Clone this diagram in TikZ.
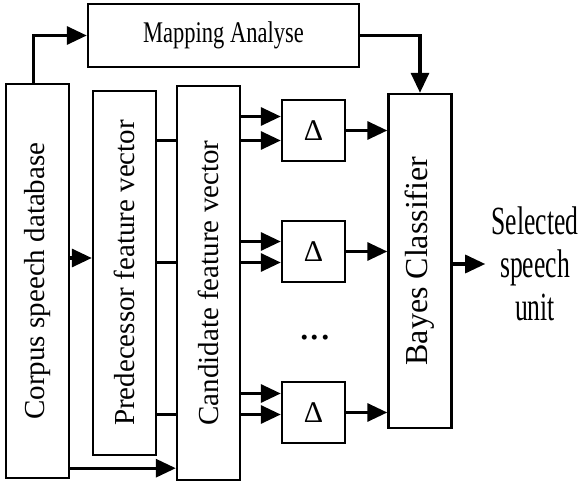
\documentclass[tikz,border=0pt]{standalone}
\usepackage{fontspec}
\setmainfont{Liberation Serif}
\newfontfamily\narrowserif{Liberation Serif}[FakeStretch=0.75]
\newfontfamily\slimserif{Liberation Serif}[FakeStretch=0.64]
\usetikzlibrary{arrows.meta, positioning, calc}

\begin{document}
\begin{tikzpicture}[
    x=0.5pt, y=-0.5pt,
    vbox/.style={draw, line width=1.2pt, minimum width=31.5pt, inner sep=0pt, font=\fontsize{14.5}{17}\selectfont},
    dbox/.style={draw, line width=1.2pt, minimum width=31.5pt, minimum height=30.5pt, inner sep=0pt, font=\fontsize{15}{17}\selectfont},
    arr/.style={-{Triangle[length=10pt, width=9pt]}, line width=1.6pt},
    wire/.style={line width=1.4pt}
  ]
    \useasboundingbox (0,0) rectangle (580,482);
    \node[vbox, minimum height=197pt] (corpus) at (37.5,281) {\rotatebox{90}{Corpus speech database}};
    \node[vbox, minimum height=182pt] (pred) at (124.5,273) {\rotatebox{90}{Predecessor feature vector}};
    \node[vbox, minimum height=197pt] (cand) at (208.5,283) {\rotatebox{90}{Candidate feature vector}};
    \node[vbox, minimum height=167pt, font=\fontsize{16}{18}\selectfont] (bayes) at (420,261) {\rotatebox{90}{Bayes Classifier}};
    \node[draw, line width=1.2pt, minimum width=135.5pt, minimum height=31.5pt, font=\narrowserif\fontsize{15}{17}\selectfont] (map) at (223.5,35.5) {Mapping Analyse};
    \node[dbox] (d1) at (313.5,130.5) {Δ};
    \node[dbox] (d2) at (313.5,251.5) {Δ};
    \node[dbox] (d3) at (313.5,412.5) {Δ};
    \node[font=\fontsize{21}{21}\selectfont] (dots) at (315,338) {...};
    \node[align=center, inner sep=0pt, font=\slimserif\fontsize{20}{21.5}\selectfont] (out) at (535,264) {Selected\\speech\\unit};
    \coordinate (p1) at ($(pred.west)+(0,-15)$);
    \coordinate (c1) at ($(cand.south west)+(0,-13)$);
    \draw[arr] ([xshift=-2pt]corpus.north) |- (map.west);
    \draw[arr] (map.east) -| (bayes.north);
    \draw[arr] (corpus.east |- p1) -- (p1);
    \draw[arr] (corpus.east |- c1) -- (c1);
    \foreach \d/\a/\b in {d1/-14/10, d2/-10/11, d3/-19/2} {
        \coordinate (\d-u) at ($(\d.west)+(0,\a)$);
        \coordinate (\d-l) at ($(\d.west)+(0,\b)$);
        \draw[wire] (pred.east |- \d-l) -- (cand.west |- \d-l);
        \draw[arr] (cand.east |- \d-u) -- (\d-u);
        \draw[arr] (cand.east |- \d-l) -- (\d-l);
        \draw[arr] (\d.east) -- (\d.east -| bayes.west);
    }
    \draw[arr] (bayes.east |- out.west) -- ([xshift=-3pt]out.west);
  \end{tikzpicture}
\end{document}
